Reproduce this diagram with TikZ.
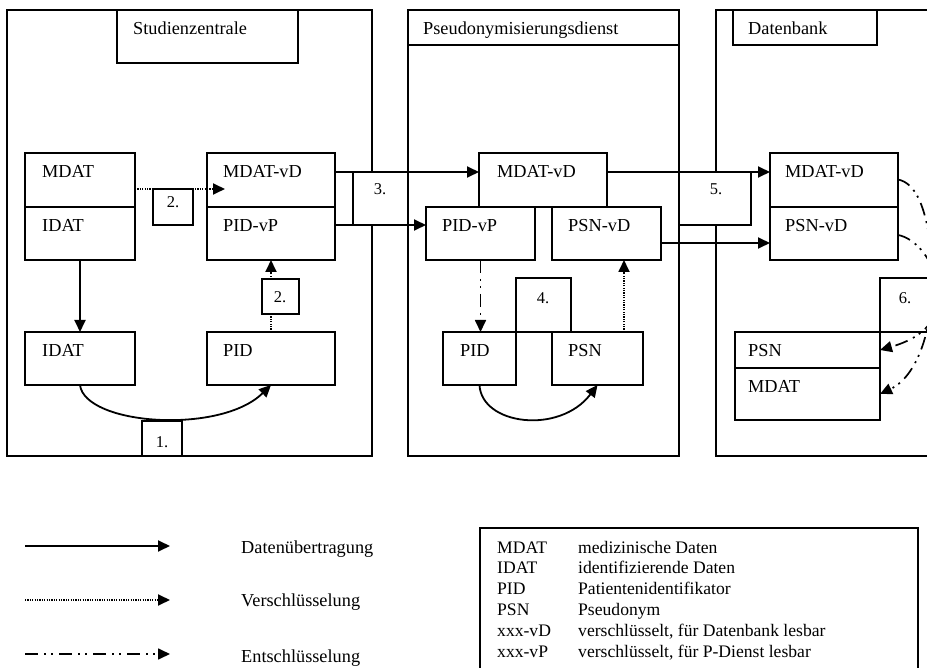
\documentclass[tikz,border=0pt]{standalone}
\usepackage{fontspec}
\setmainfont{Liberation Serif}
\usetikzlibrary{arrows.meta,calc}
\newcommand\mybox[5]{\node[box,minimum width=#4pt,minimum height=#5pt] (#1) at (#2,#3) {};}
\begin{document}
\begin{tikzpicture}[x=1pt,y=-1pt,
  box/.style={draw,line width=1.4pt,fill=white,inner sep=0pt,outer sep=0pt,anchor=north west},
  lbl/.style={anchor=base west,inner sep=0pt,font=\fontsize{18.3}{21}\selectfont},
  leg/.style={anchor=base west,inner sep=0pt,font=\fontsize{17.6}{20}\selectfont},
  num/.style={anchor=base,inner sep=0pt,font=\fontsize{16.5}{19}\selectfont},
  flow/.style={line width=1.8pt,-{Triangle[length=12pt,width=11pt]}},
  enc/.style={flow,line width=1.8pt,dash pattern=on 1.1pt off 1.3pt},
  dec/.style={flow,line width=1.7pt,dash pattern=on 13pt off 6pt on 2pt off 5pt on 2pt off 6pt},
]
\useasboundingbox (0,0) rectangle (927,668);
\fill[white] (0,0) rectangle (927,668);
\clip (0,0) rectangle (927,668);

% panels
\mybox{P1}{7}{10}{365}{446}
\mybox{P2}{408}{10}{271}{446}
\mybox{P3}{716}{10}{250}{446}
\mybox{T1}{117}{10}{181}{53}
\mybox{T2}{408}{10}{271}{35}
\mybox{T3}{733}{10}{144}{35}

% Studienzentrale boxes
\mybox{A1t}{25}{153}{110}{54}
\mybox{A1b}{25}{207}{110}{53}
\mybox{A2t}{207}{153}{128}{54}
\mybox{A2b}{207}{207}{128}{53}
\mybox{A3}{25}{332}{110}{53}
\mybox{A4}{207}{332}{128}{53}

% Pseudonymisierungsdienst boxes
\mybox{B1}{479}{153}{128}{54}
\mybox{B2}{426}{207}{109}{53}
\mybox{B3}{552}{207}{109}{53}
\mybox{N4}{516}{278}{55}{54}
\mybox{B4}{443}{332}{73}{53}
\mybox{B5}{552}{332}{91}{53}

% Datenbank boxes
\mybox{C1t}{770}{153}{128}{54}
\mybox{C1b}{770}{207}{128}{53}
\mybox{N6}{880}{278}{60}{54}
\mybox{C2t}{735}{332}{145}{36}
\mybox{C2b}{735}{368}{145}{52}

% helper coordinates
\coordinate (e2) at (225,189);
\coordinate (x4) at (624,0);
\coordinate (r5) at (0,243);

% arrows in Studienzentrale
\draw[flow] (A1b.south) -- (A3.north);
\draw[enc] (A1t.east |- 0,189) -- (e2);
\draw[enc] (A4.north) -- (A2b.south);
\draw[flow] (A3.south) .. controls +(5,40) and +(-51,50) .. (A4.south);

% number boxes
\mybox{N2a}{153}{189}{40}{36}
\mybox{N2b}{262}{279}{37}{35}
\mybox{N1}{142}{421}{40}{35}
\mybox{N3}{353}{172}{55}{53}
\mybox{N5}{679}{172}{72}{53}

% arrows 3
\draw[flow] (A2t.east |- N3.north) -- (B1.west |- N3.north);
\draw[flow] (A2b.east |- N3.south) -- (B2.west |- N3.south);

% arrows in Pseudonymisierungsdienst
\draw[dec] (B2.south) -- (B2.south |- B4.north);
\draw[enc] (B5.north -| x4) -- (B3.south -| x4);
\draw[flow] (B4.south) .. controls +(2,40) and +(-38,50) .. (B5.south);

% arrows 5
\draw[flow] (B1.east |- N5.north) -- (C1t.west |- N5.north);
\draw[flow] (B3.east |- r5) -- (C1b.west |- r5);

% arrows 6
\draw[dec] (C1t.east) ++(0,-0.5) .. controls (915,183) and (927,205) .. (932,260)
  .. controls (936,320) and (920,375) .. (C2b.east);
\draw[dec] (C1b.east |- r5) ++(0,-8) .. controls (915,238) and (935,260) .. (938,290)
  .. controls (942,325) and (915,340) .. (C2t.east);

% titles
\node[lbl] (tS) at (133,35) {Studienzentrale};
\node[lbl] (tP) at (423,35) {Pseudonymisierungsdienst};
\node[lbl] (tD) at (748,35) {Datenbank};

% box labels
\node[lbl] (l1) at (42,178) {MDAT};
\node[lbl] (l2) at (42,232) {IDAT};
\node[lbl] (l3) at (223,178) {MDAT-vD};
\node[lbl] (l4) at (223,232) {PID-vP};
\node[lbl] (l5) at (42,357) {IDAT};
\node[lbl] (l6) at (223,357) {PID};
\node[lbl] (l7) at (497,178) {MDAT-vD};
\node[lbl] (l8) at (442,232) {PID-vP};
\node[lbl] (l9) at (568,232) {PSN-vD};
\node[lbl] (l10) at (460,357) {PID};
\node[lbl] (l11) at (568,357) {PSN};
\node[lbl] (l12) at (785,178) {MDAT-vD};
\node[lbl] (l13) at (785,232) {PSN-vD};
\node[lbl] (l14) at (748,357) {PSN};
\node[lbl] (l15) at (748,392) {MDAT};

% numbers
\node[num] (n2a) at (173,208) {2.};
\node[num] (n2b) at (280,303) {2.};
\node[num] (n1) at (162,447) {1.};
\node[num] (n3) at (380,195) {3.};
\node[num] (n4) at (543,304) {4.};
\node[num] (n5) at (716,195) {5.};
\node[num] (n6) at (905,304) {6.};

% legend arrows
\coordinate (la1) at (25,546);  \coordinate (lb1) at (170,546);
\coordinate (la2) at (25,600);  \coordinate (lb2) at (170,600);
\coordinate (la3) at (25,654);  \coordinate (lb3) at (170,654);
\draw[flow] (la1) -- (lb1);
\draw[enc] (la2) -- (lb2);
\draw[dec] (la3) -- (lb3);
\node[lbl] (lt1) at (241,553) {Datenübertragung};
\node[lbl] (lt2) at (241,606) {Verschlüsselung};
\node[lbl] (lt3) at (241,662) {Entschlüsselung};

% legend box
\mybox{L}{480}{528}{438}{170}
\foreach \k/\a/\b in {0/MDAT/medizinische Daten,
                      1/IDAT/identifizierende Daten,
                      2/PID/Patientenidentifikator,
                      3/PSN/Pseudonym,
                      4/xxx-vD/{verschlüsselt, für Datenbank lesbar},
                      5/xxx-vP/{verschlüsselt, für P-Dienst lesbar}}{
  \node[leg] (ka\k) at (497,553+20.8*\k) {\a};
  \node[leg] (kb\k) at (578,553+20.8*\k) {\b};
}
\end{tikzpicture}
\end{document}
